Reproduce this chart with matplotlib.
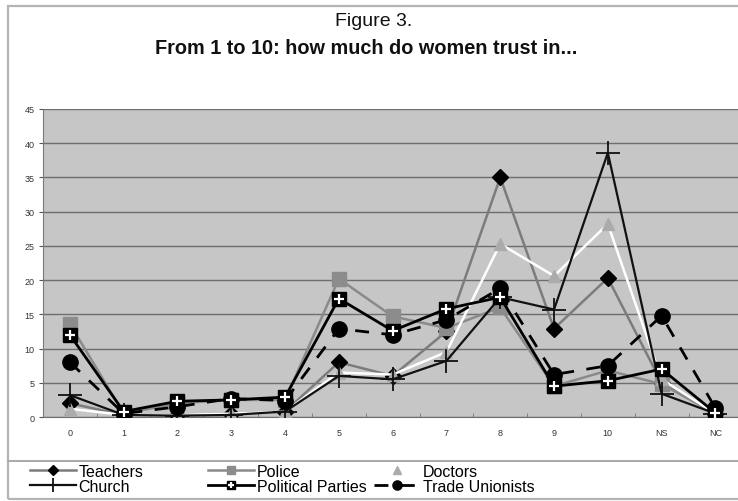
import matplotlib
matplotlib.use("Agg")
import matplotlib.pyplot as plt
from matplotlib import font_manager
from matplotlib.patches import Rectangle
from matplotlib.lines import Line2D

# Response categories (score 0-10, NS = don't know, NC = no answer)
categories = ["0", "1", "2", "3", "4", "5", "6", "7", "8", "9", "10", "NS", "NC"]

# Percentage of women giving each score
teachers = [2.0, 0.3, 0.3, 0.5, 0.8, 8.0, 6.0, 12.5, 35.0, 12.9, 20.3, 5.0, 0.5]
police = [13.6, 0.5, 2.0, 2.5, 2.5, 20.2, 14.7, 13.0, 16.0, 4.5, 6.8, 4.8, 0.5]
doctors = [1.2, 0.3, 0.3, 0.5, 0.8, 6.5, 6.2, 9.5, 25.3, 20.6, 28.2, 5.5, 0.5]
church = [3.2, 0.3, 0.2, 0.3, 0.8, 6.0, 5.5, 8.2, 17.5, 15.7, 38.6, 3.4, 0.5]
parties = [12.0, 0.8, 2.3, 2.5, 2.9, 17.3, 12.6, 15.8, 17.5, 4.5, 5.3, 7.0, 0.6]
unions = [8.0, 0.5, 1.5, 2.7, 2.4, 12.9, 12.0, 14.2, 18.8, 6.2, 7.5, 14.8, 1.3]

y_ticks = [0, 5, 10, 15, 20, 25, 30, 35, 40, 45]

available = {f.name for f in font_manager.fontManager.ttflist}
narrow = "Liberation Sans Narrow" if "Liberation Sans Narrow" in available else "Liberation Sans"
plt.rcParams["font.family"] = [narrow, "DejaVu Sans"]

W, H = 738, 502
fig = plt.figure(figsize=(W / 100, H / 100), dpi=100)
fig.patch.set_facecolor("white")

# outer frame of the figure panel and the legend strip
fig.patches.append(Rectangle((8 / W, 1 - 500 / H), 1.2, (500 - 7) / H,
                             transform=fig.transFigure, fill=False,
                             edgecolor="#b4b4b4", linewidth=1.6, zorder=0))
fig.lines.append(Line2D([8 / W, 1.0], [1 - 462 / H, 1 - 462 / H],
                        transform=fig.transFigure, color="#a8a8a8", linewidth=1.4))

left, right, bottom, top = 43, 738, 418, 110
ax = fig.add_axes([left / W, 1 - bottom / H, (right - left) / W, (bottom - top) / H])
ax.set_facecolor("#c6c6c6")

x = list(range(len(categories)))

l_teach, = ax.plot(x, teachers, color="#7c7c7c", lw=1.8, marker="D", ms=8.5,
                   mfc="black", mec="black", zorder=3)
l_pol, = ax.plot(x, police, color="#8a8a8a", lw=1.8, marker="s", ms=10,
                 mfc="#8c8c8c", mec="#8c8c8c", zorder=3)
l_doc, = ax.plot(x, doctors, color="white", lw=1.8, marker="^", ms=9,
                 mfc="#ababab", mec="#ababab", zorder=3)
l_church, = ax.plot(x, church, color="#111111", lw=1.6, marker="+", ms=17,
                    mew=1.3, mec="#111111", zorder=4)
l_part, = ax.plot(x, parties, color="black", lw=2.0, marker="s", ms=10.5,
                  mfc="black", mec="black", zorder=5)
l_part_plus, = ax.plot(x, parties, ls="none", marker="+", ms=6.5, mew=1.6,
                       mec="white", zorder=6)
l_union, = ax.plot(x, unions, color="black", lw=2.0, ls=(0, (5, 4.5)), marker="o",
                   ms=11, mfc="black", mec="black", zorder=5)

ax.set_xlim(-0.5, 12.42)
ax.set_ylim(0, 45)
ax.set_yticks(y_ticks)
ax.set_xticks(x)
ax.set_xticklabels(categories)
ax.set_xticks([i + 0.5 for i in range(-1, 12)], minor=True)
ax.grid(axis="y", color="#6e6e6e", linewidth=1.0)
ax.set_axisbelow(True)

ax.tick_params(axis="y", labelsize=6.5, labelcolor="#333333", length=3,
               color="#555555", pad=3)
ax.tick_params(axis="x", which="major", labelsize=6.5, labelcolor="#333333",
               length=0, pad=8)
ax.tick_params(axis="x", which="minor", length=3, direction="in", color="#777777")
for side in ("top", "right"):
    ax.spines[side].set_visible(False)
ax.spines["left"].set_color("#7a7a7a")
ax.spines["bottom"].set_color("#6e6e6e")

fig.text(374 / W, 1 - 22 / H, "Figure 3.", ha="center", va="center",
         fontsize=14, color="#111111")
fig.text(366 / W, 1 - 49 / H, "From 1 to 10: how much do women trust in...",
         ha="center", va="center", fontsize=14.3, fontweight="bold", color="#111111")

leg_kw = dict(frameon=False, fontsize=11.5, handlelength=2.9, handletextpad=0.15,
              labelspacing=0.0, borderpad=0, borderaxespad=0, loc="upper left",
              markerscale=0.6)
fig.legend([l_teach, l_church], ["Teachers", "Church"],
           bbox_to_anchor=(30 / W, 1 - 465 / H), **leg_kw)
fig.legend([l_pol, (l_part, l_part_plus)], ["Police", "Political Parties"],
           bbox_to_anchor=(208 / W, 1 - 465 / H), **leg_kw)
fig.legend([l_doc, l_union], ["Doctors", "Trade Unionists"],
           bbox_to_anchor=(374 / W, 1 - 465 / H), **leg_kw)

fig.savefig("out.png", dpi=100, facecolor="white")
